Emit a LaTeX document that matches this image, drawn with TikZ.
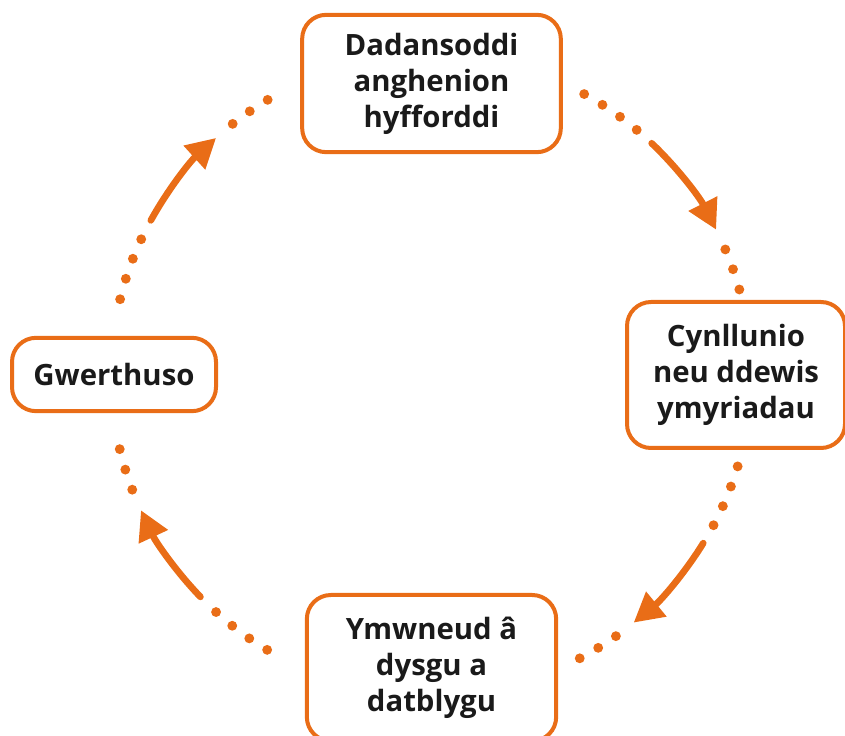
\documentclass[tikz,border=0pt]{standalone}
\usepackage{fontspec}
\setmainfont{Open Sans}
\usepackage{xcolor}
\usetikzlibrary{arrows.meta}

\definecolor{cycleorange}{HTML}{E96D17}
\definecolor{cycletext}{HTML}{1A1A1A}

\begin{document}
\begin{tikzpicture}[x=0.75pt,y=0.75pt,
    stage/.style={draw=cycleorange,line width=3pt,rounded corners=18pt,fill=white,
        align=center,text=cycletext,inner sep=0pt,
        font=\bfseries\fontsize{22}{27}\selectfont},
    cycledot/.style={circle,fill=cycleorange,inner sep=0pt,minimum size=7.4pt},
    cyclearrow/.style={draw=cycleorange,line width=5pt,line cap=round,
        -{Triangle[length=22pt,width=23pt]}}]
    \useasboundingbox (0,0) rectangle (845,735);
    \coordinate (hub) at (431,360);

    % the four stages
    \node[stage,minimum width=194pt,minimum height=103pt] (analysis) at (431.5,651.5)
        {Dadansoddi\\anghenion\\hyfforddi};
    \node[stage,minimum width=163.5pt,minimum height=109.5pt] (planning) at (736,360)
        {Cynllunio\\neu ddewis\\ymyriadau};
    \node[stage,minimum width=187pt,minimum height=109.5pt] (delivery) at (431.5,67)
        {Ymwneud â\\dysgu a\\datblygu};
    \node[stage,minimum width=153pt,minimum height=55pt] (evaluation) at (114,360.5)
        {Gwerthuso};

    % dotted arcs with an arrow between stages
    \foreach \da/\ab/\ae/\db [count=\q] in {166.3/151.1/132.2/128.3,
                                          61.4/46.4/27.0/23.1,
                                          -16.6/-31.7/-50.7/-54.7,
                                          239.2/223.9/205.0/201.0}{
        \foreach \k in {0,...,3}
            \node[cycledot] (dot\q-a\k) at ([shift={(hub)}]\da-3.8*\k:320) {};
        \draw[cyclearrow] ([shift={(hub)}]\ab:320) arc[start angle=\ab,end angle=\ae,radius=240pt];
        \foreach \k in {0,...,2}
            \node[cycledot] (dot\q-b\k) at ([shift={(hub)}]\db-3.8*\k:320) {};
    }
\end{tikzpicture}
\end{document}
